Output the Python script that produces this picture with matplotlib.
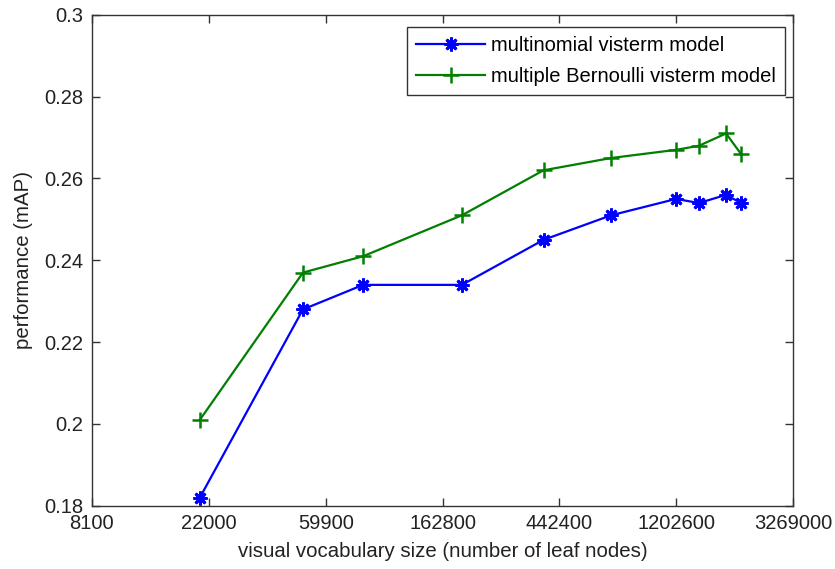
#!/usr/bin/env python3
"""
Retrieval performance vs. visual vocabulary size
"""

import matplotlib
matplotlib.use('Agg')
import matplotlib.pyplot as plt
import numpy as np

plt.rcParams.update({
    'font.family': ['Liberation Sans', 'DejaVu Sans'],
    'font.size': 14.5,
    'axes.linewidth': 1.0,
    'xtick.direction': 'in',
    'ytick.direction': 'in',
    'xtick.top': True,
    'ytick.right': True,
})

# vocabulary sizes (number of leaf nodes)
vocab_size = [20400, 49300, 82500, 192000, 386000, 688000, 1200000, 1460000, 1840000, 2090000]
multinomial_map = [0.182, 0.228, 0.234, 0.234, 0.245, 0.251, 0.255, 0.254, 0.256, 0.254]
bernoulli_map = [0.201, 0.237, 0.241, 0.251, 0.262, 0.265, 0.267, 0.268, 0.271, 0.266]

x_ticks = [8100, 22000, 59900, 162800, 442400, 1202600, 3269000]
x_tick_labels = ['8100', '22000', '59900', '162800', '442400', '1202600', '3269000']
y_ticks = [0.18, 0.2, 0.22, 0.24, 0.26, 0.28, 0.3]
y_tick_labels = ['0.18', '0.2', '0.22', '0.24', '0.26', '0.28', '0.3']

fig = plt.figure(figsize=(8.35, 5.69), dpi=100)
ax = fig.add_axes([0.110, 0.111, 0.840, 0.863])

ax.plot(vocab_size, multinomial_map, '-', marker=(8, 2, 0), color='#0000ff', linewidth=1.6,
        markersize=10, markeredgewidth=2.0, label='multinomial visterm model')
ax.plot(vocab_size, bernoulli_map, '-+', color='#007f00', linewidth=1.6,
        markersize=11, markeredgewidth=1.8, label='multiple Bernoulli visterm model')

ax.set_xscale('log', base=np.e)
ax.set_xlim(8100, 3269000)
ax.set_ylim(0.18, 0.3)
ax.set_xticks(x_ticks)
ax.set_xticklabels(x_tick_labels)
ax.xaxis.set_minor_locator(matplotlib.ticker.NullLocator())
ax.set_yticks(y_ticks)
ax.set_yticklabels(y_tick_labels)
ax.tick_params(length=6, width=1.0, colors='#333333', labelcolor='#222222')
ax.tick_params(axis='x', pad=6)
ax.tick_params(axis='y', pad=6)
for s in ax.spines.values():
    s.set_color('#333333')

ax.set_xlabel('visual vocabulary size (number of leaf nodes)', color='#222222',
              labelpad=6, fontsize=14.7)
ax.set_ylabel('performance (mAP)', color='#222222', labelpad=8, fontsize=14.7)

leg = ax.legend(loc='upper right', fancybox=False, framealpha=1, edgecolor='#333333',
                borderaxespad=0, handlelength=3.4, handletextpad=0.3,
                labelspacing=0.6, borderpad=0.45, fontsize=14.5,
                bbox_to_anchor=(0.988, 0.976))
leg.get_frame().set_linewidth(1.0)

plt.savefig('out.png', dpi=100)
